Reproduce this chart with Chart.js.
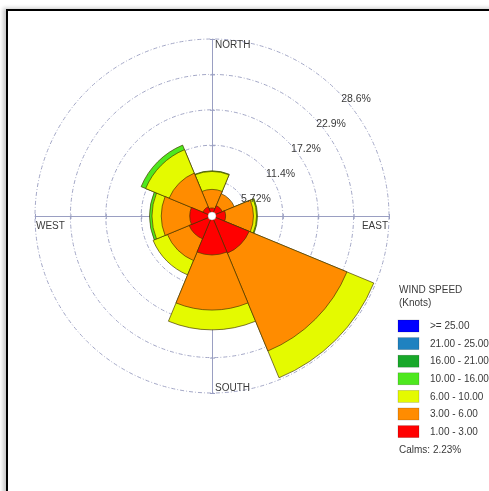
<!DOCTYPE html>
<html>
<head>
<meta charset="utf-8">
<title>Wind Rose</title>
<script src="https://cdn.jsdelivr.net/npm/chart.js@4/dist/chart.umd.min.js"></script>
<style>
  html, body { margin: 0; padding: 0; background: #fff; overflow: hidden; }
  #wrap { position: relative; width: 489px; height: 491px; overflow: hidden; }
  #frame {
    position: absolute; left: 6px; top: 9px; width: 600px; height: 600px;
    border-left: 2px solid #000; border-top: 2px solid #000;
    box-shadow: -3px -1px 4px rgba(0,0,0,0.22); background: #fff;
  }
  #rose { position: absolute; left: 0; top: 0; }
</style>
</head>
<body>
<div id="wrap">
  <div id="frame"></div>
  <canvas id="rose" width="489" height="491"></canvas>
</div>
<script>
// Direction sectors, clockwise from north
const directions = ['N', 'NE', 'E', 'SE', 'S', 'SW', 'W', 'NW'];

// Frequency (%) of each wind speed class per direction
const speed1to3   = [1.3, 1.8, 2.2, 6.5, 6.3, 4.0, 3.6, 1.6];
const speed3to6   = [3.0, 2.1, 4.5, 17.1, 8.9, 3.8, 4.6, 5.9];
const speed6to10  = [2.9, 0.0, 0.5, 4.7, 3.2, 2.5, 1.5, 4.1];
const speed10to16 = [0.1, 0.0, 0.15, 0.0, 0.0, 0.0, 0.4, 0.8];
const speed16to21 = [0, 0, 0, 0, 0, 0, 0, 0];
const speed21to25 = [0, 0, 0, 0, 0, 0, 0, 0];
const speed25plus = [0, 0, 0, 0, 0, 0, 0, 0];

// Speed class names (knots) and colours, lowest class first
const speedClasses = ['1.00 - 3.00', '3.00 - 6.00', '6.00 - 10.00', '10.00 - 16.00',
                      '16.00 - 21.00', '21.00 - 25.00', '>= 25.00'];
const classColors  = ['#ff0000', '#ff8c00', '#e4fa00', '#4ee81e', '#18a82a', '#1f82c0', '#0000ff'];

// Ring values and their labels
const ringValues = [0, 5.72, 11.44, 17.16, 22.88, 28.6];
const ringLabels = ['', '5.72%', '11.4%', '17.2%', '22.9%', '28.6%'];
const calmsPercent = 2.23;

const bands = [speed1to3, speed3to6, speed6to10, speed10to16, speed16to21, speed21to25, speed25plus];

// Petals are stacked: each class is drawn out to the running total of the classes below it
const datasets = [];
let running = directions.map(() => 0);
bands.forEach((band, b) => {
  running = running.map((v, i) => v + band[i]);
  const cum = running.slice();
  datasets.push({
    label: speedClasses[b],
    data: cum,
    backgroundColor: (c) => band[c.dataIndex] > 0 ? classColors[b] : 'rgba(0,0,0,0)',
    borderColor: (c) => band[c.dataIndex] > 0 ? 'rgba(70,55,0,0.85)' : 'rgba(0,0,0,0)',
    borderWidth: (c) => band[c.dataIndex] > 0 ? 0.8 : 0
  });
});

const FONT = '"Liberation Sans", Arial, sans-serif';
const TEXT = '#3a3a3a';

const roseDecor = {
  id: 'roseDecor',
  beforeDatasetsDraw(chart) {
    const s = chart.scales.r;
    const ctx = chart.ctx;
    const cx = s.xCenter, cy = s.yCenter, R = s.drawingArea;
    ctx.save();
    ctx.strokeStyle = '#9a9fc2';
    ctx.lineWidth = 1;
    ctx.beginPath();
    ctx.moveTo(cx - R, cy + 0.5); ctx.lineTo(cx + R, cy + 0.5);
    ctx.moveTo(cx + 0.5, cy - R); ctx.lineTo(cx + 0.5, cy + R);
    // small tick marks where the axes cross each ring
    ringValues.slice(1).forEach(v => {
      const d = s.getDistanceFromCenterForValue(v);
      [-1, 1].forEach(sg => {
        ctx.moveTo(cx + sg * d + 0.5, cy - 2); ctx.lineTo(cx + sg * d + 0.5, cy + 3);
        ctx.moveTo(cx - 2, cy + sg * d + 0.5); ctx.lineTo(cx + 3, cy + sg * d + 0.5);
      });
    });
    ctx.stroke();
    ctx.restore();
  },
  afterDatasetsDraw(chart) {
    const s = chart.scales.r;
    const ctx = chart.ctx;
    ctx.save();
    ctx.fillStyle = '#fff';
    ctx.strokeStyle = 'rgba(120,120,120,0.5)';
    ctx.lineWidth = 0.6;
    ctx.beginPath();
    ctx.arc(s.xCenter, s.yCenter, 4, 0, Math.PI * 2);
    ctx.fill();
    ctx.stroke();
    ctx.restore();
  },
  afterDraw(chart) {
    const s = chart.scales.r;
    const ctx = chart.ctx;
    const cx = s.xCenter, cy = s.yCenter, R = s.drawingArea;
    ctx.save();
    ctx.fillStyle = TEXT;
    ctx.textBaseline = 'middle';

    // ring labels along the north-east diagonal
    ctx.font = '10.5px ' + FONT;
    ctx.textAlign = 'left';
    ringValues.forEach((v, i) => {
      if (!ringLabels[i]) return;
      const d = s.getDistanceFromCenterForValue(v) * Math.SQRT1_2;
      ctx.fillText(ringLabels[i], cx + d + 4, cy - d + 8);
    });

    // compass labels
    ctx.font = '10px ' + FONT;
    ctx.textAlign = 'left';
    ctx.fillText('NORTH', cx + 3, cy - R + 6);
    ctx.fillText('SOUTH', cx + 3, cy + R - 5);
    ctx.fillText('WEST', cx - R + 1, cy + 10);
    ctx.textAlign = 'right';
    ctx.fillText('EAST', cx + R - 1, cy + 10);

    // speed legend
    const lx = chart.chartArea.right + 9;
    const ly = chart.chartArea.top + 251;
    ctx.textAlign = 'left';
    ctx.font = '10px ' + FONT;
    ctx.fillText('WIND SPEED', lx + 1, ly);
    ctx.fillText('(Knots)', lx + 1, ly + 13);
    const n = speedClasses.length;
    for (let k = 0; k < n; k++) {
      const b = n - 1 - k;
      const top = ly + 30 + k * 17.6;
      ctx.fillStyle = classColors[b];
      ctx.fillRect(lx, top, 21, 12);
      ctx.strokeStyle = 'rgba(0,0,0,0.25)';
      ctx.lineWidth = 0.6;
      ctx.strokeRect(lx, top, 21, 12);
      ctx.fillStyle = TEXT;
      ctx.fillText(speedClasses[b], lx + 32, top + 6.5);
    }
    ctx.fillText('Calms: ' + calmsPercent.toFixed(2) + '%', lx + 1, ly + 160);
    ctx.restore();
  }
};

new Chart(document.getElementById('rose'), {
  type: 'polarArea',
  data: { labels: directions, datasets },
  options: {
    responsive: false,
    animation: false,
    events: [],
    layout: { padding: { left: 35, top: 39, right: 100, bottom: 98 } },
    plugins: { legend: { display: false }, tooltip: { enabled: false } },
    scales: {
      r: {
        min: 0,
        max: 28.6,
        startAngle: -22.5,
        afterBuildTicks: (scale) => { scale.ticks = ringValues.map(v => ({ value: v })); },
        ticks: { display: false },
        grid: { circular: true, color: '#a3a7c6', lineWidth: 1 },
        border: { dash: [4, 2, 1, 2] },
        angleLines: { display: false },
        pointLabels: { display: false }
      }
    }
  },
  plugins: [roseDecor]
});
</script>
</body>
</html>
